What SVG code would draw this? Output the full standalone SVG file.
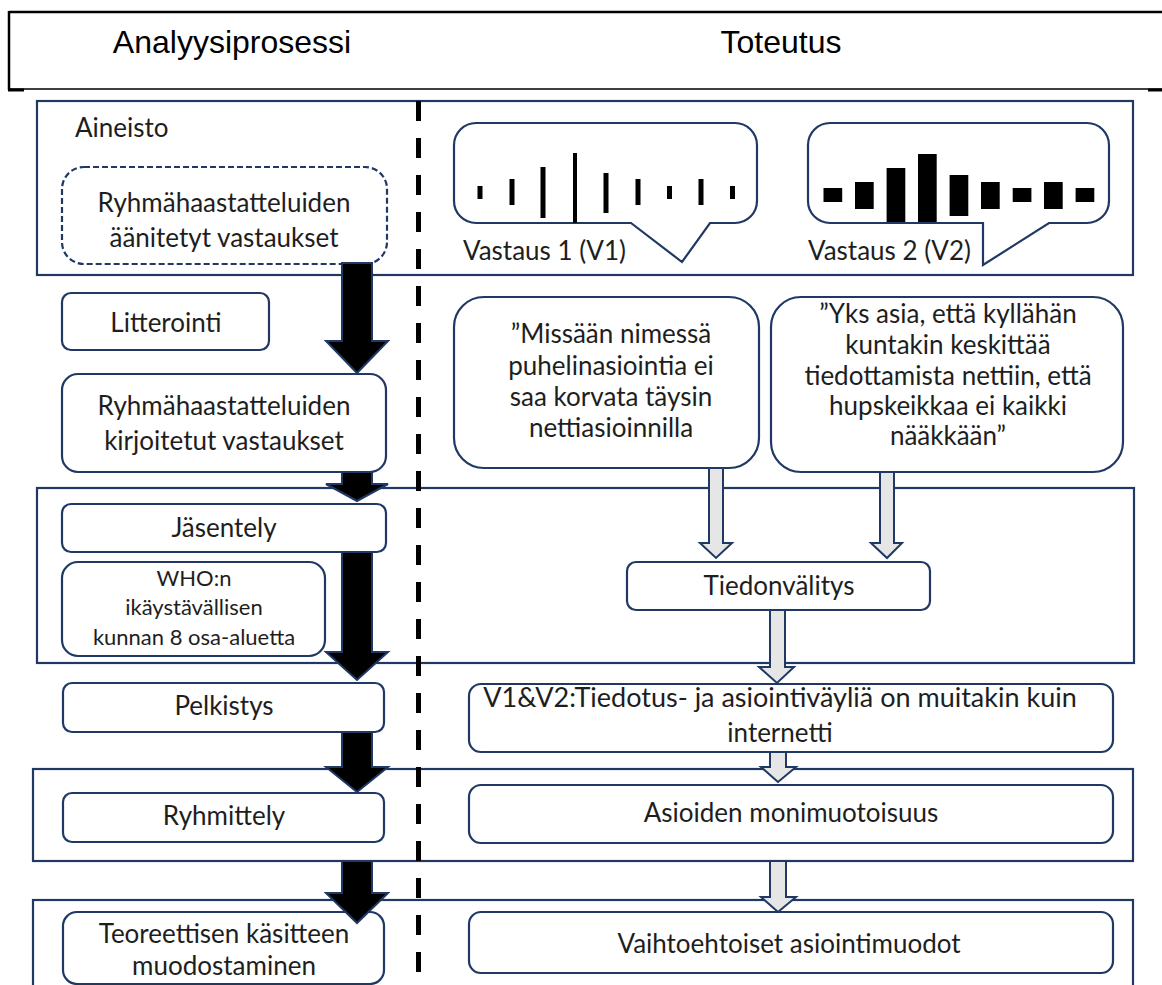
<svg xmlns="http://www.w3.org/2000/svg" width="1162" height="985" viewBox="0 0 1162 985">
<style>
.hd{font-family:"Liberation Sans",Arial,sans-serif;font-size:32px;fill:#000;text-anchor:middle}
.t{font-family:Lato,"Noto Sans",sans-serif;font-size:26px;fill:#1e1e1e;text-anchor:middle}
.tq{font-family:Lato,"Noto Sans",sans-serif;font-size:26px;fill:#1e1e1e;text-anchor:middle}
.tw{font-family:Lato,"Noto Sans",sans-serif;font-size:22px;fill:#1e1e1e;text-anchor:middle}
.sec{fill:none;stroke:#1F3864;stroke-width:2.2}
.box{fill:#fff;stroke:#1F3864;stroke-width:2.2}
.bar{fill:#000}
.ba{fill:#000;stroke:#1F3864;stroke-width:2}
.ga{fill:#E7E6E6;stroke:#1F3864;stroke-width:2}
</style>
<rect width="1162" height="985" fill="#fff"/>
<g id="header">
<line x1="9" y1="12" x2="1162" y2="12" stroke="#000" stroke-width="2.5"/>
<line x1="9" y1="11" x2="9" y2="90" stroke="#000" stroke-width="2.5"/>
<line x1="9" y1="89" x2="1162" y2="89" stroke="#000" stroke-width="1.3"/>
<line x1="8" y1="90" x2="24" y2="90" stroke="#000" stroke-width="3"/>
<line x1="1148" y1="90" x2="1162" y2="90" stroke="#000" stroke-width="3"/>
<text class="hd" x="232" y="53">Analyysiprosessi</text>
<text class="hd" x="781" y="53">Toteutus</text>
</g>
<g id="sections">
<rect class="sec" x="37" y="101" width="1096" height="174"/>
<rect class="sec" x="37" y="488" width="1097" height="175"/>
<rect class="sec" x="33" y="769" width="1100" height="92"/>
<rect class="sec" x="33" y="900" width="1100" height="95"/>
</g>
<line id="divider" x1="418.5" y1="101" x2="418.5" y2="985" stroke="#000" stroke-width="5" stroke-dasharray="20 17"/>
<g id="aineisto"><text class="t" x="75" y="137" style="text-anchor:start">Aineisto</text></g>
<g id="aanitetyt">
<rect x="62" y="167" width="325" height="97" rx="22" fill="#fff" stroke="#1F3864" stroke-width="2.2" stroke-dasharray="6 3"/>
<text class="t" x="224" y="212">Ryhmähaastatteluiden</text>
<text class="t" x="224" y="247">äänitetyt vastaukset</text>
</g>
<g id="bubble1">
<path class="box" d="M476,123 H735 A22,22 0 0 1 757,145 V201 A22,22 0 0 1 735,223 H710 L682,262 L631,223 H476 A22,22 0 0 1 454,201 V145 A22,22 0 0 1 476,123 Z"/>
<rect class="bar" x="477.5" y="186" width="5" height="13"/>
<rect class="bar" x="509.5" y="179" width="5" height="26"/>
<rect class="bar" x="540.5" y="167" width="5" height="51"/>
<rect class="bar" x="573" y="153" width="4" height="70"/>
<rect class="bar" x="603.5" y="173" width="5" height="40"/>
<rect class="bar" x="635.5" y="179" width="5" height="26"/>
<rect class="bar" x="667" y="186" width="5" height="13"/>
<rect class="bar" x="698.5" y="179" width="5" height="26"/>
<rect class="bar" x="730" y="186" width="5" height="13"/>
<text class="t" x="463" y="260" style="text-anchor:start">Vastaus 1 (V1)</text>
</g>
<g id="bubble2">
<path class="box" d="M830,123 H1087 A22,22 0 0 1 1109,145 V201 A22,22 0 0 1 1087,223 H1049 L983,265 V223 H830 A22,22 0 0 1 808,201 V145 A22,22 0 0 1 830,123 Z"/>
<rect class="bar" x="823.5" y="188" width="18.7" height="14"/>
<rect class="bar" x="855" y="182" width="18.7" height="27"/>
<rect class="bar" x="886.6" y="168" width="18.7" height="54"/>
<rect class="bar" x="918" y="154" width="18.7" height="68"/>
<rect class="bar" x="949.6" y="175" width="18.7" height="41"/>
<rect class="bar" x="981" y="182" width="18.7" height="27"/>
<rect class="bar" x="1012.7" y="188" width="18.7" height="14"/>
<rect class="bar" x="1044" y="182" width="18.7" height="27"/>
<rect class="bar" x="1075.6" y="188" width="18.7" height="14"/>
<text class="t" x="808" y="260" style="text-anchor:start">Vastaus 2 (V2)</text>
</g>
<g id="litterointi">
<rect class="box" x="62" y="293" width="207" height="57" rx="9"/>
<text class="t" x="166" y="332">Litterointi</text>
</g>
<g id="kirjoitetut">
<rect class="box" x="62" y="374" width="324" height="98" rx="16"/>
<text class="t" x="224" y="415">Ryhmähaastatteluiden</text>
<text class="t" x="224" y="450">kirjoitetut vastaukset</text>
</g>
<g id="quote1">
<rect class="box" x="454" y="297" width="305" height="171" rx="30"/>
<text class="tq" x="611" y="343">”Missään nimessä</text>
<text class="tq" x="611" y="375">puhelinasiointia ei</text>
<text class="tq" x="611" y="406">saa korvata täysin</text>
<text class="tq" x="611" y="437">nettiasioinnilla</text>
</g>
<g id="quote2">
<rect class="box" x="771" y="297" width="352" height="175" rx="30"/>
<text class="tq" x="948" y="323">”Yks asia, että kyllähän</text>
<text class="tq" x="948" y="354">kuntakin keskittää</text>
<text class="tq" x="948" y="385">tiedottamista nettiin, että</text>
<text class="tq" x="948" y="415">hupskeikkaa ei kaikki</text>
<text class="tq" x="948" y="445">nääkkään”</text>
</g>
<g id="jasentely">
<rect class="box" x="62" y="504" width="324" height="48" rx="9"/>
<text class="t" x="224" y="537">Jäsentely</text>
</g>
<g id="who">
<rect class="box" x="62" y="562" width="263" height="94" rx="16"/>
<text class="tw" x="194" y="586">WHO:n</text>
<text class="tw" x="194" y="615">ikäystävällisen</text>
<text class="tw" x="194" y="645">kunnan 8 osa-aluetta</text>
</g>
<g id="tiedonvalitys">
<rect class="box" x="627" y="562" width="303" height="48" rx="9"/>
<text class="t" x="779" y="595">Tiedonvälitys</text>
</g>
<g id="pelkistys">
<rect class="box" x="63" y="683" width="321" height="49" rx="9"/>
<text class="t" x="224" y="715">Pelkistys</text>
</g>
<g id="v1v2">
<rect class="box" x="469" y="684" width="644" height="68" rx="12"/>
<text class="t" x="780" y="707" style="font-size:27px">V1&amp;V2:Tiedotus- ja asiointiväyliä on muitakin kuin</text>
<text class="t" x="780" y="742">internetti</text>
</g>
<g id="ryhmittely">
<rect class="box" x="63" y="793" width="321" height="49" rx="9"/>
<text class="t" x="224" y="825">Ryhmittely</text>
</g>
<g id="monimuotoisuus">
<rect class="box" x="469" y="785" width="644" height="58" rx="12"/>
<text class="t" x="791" y="822">Asioiden monimuotoisuus</text>
</g>
<g id="teoreettisen">
<rect class="box" x="63" y="912" width="321" height="72" rx="14"/>
<text class="t" x="224" y="943">Teoreettisen käsitteen</text>
<text class="t" x="224" y="975">muodostaminen</text>
</g>
<g id="vaihtoehtoiset">
<rect class="box" x="469" y="912" width="644" height="61" rx="12"/>
<text class="t" x="789" y="953">Vaihtoehtoiset asiointimuodot</text>
</g>
<g id="connectors">
<path class="ba" d="M342,263 H372 V341 H388 L357,373 L326,341 H342 Z"/>
<path class="ba" d="M342,472 H372 V484 H388 L357,501 L326,484 H342 Z"/>
<path class="ba" d="M342,552 H372 V652 H388 L357,680 L326,652 H342 Z"/>
<path class="ba" d="M342,732 H372 V767 H388 L357,792 L326,767 H342 Z"/>
<path class="ba" d="M342,861 H372 V893 H388 L357,923 L326,893 H342 Z"/>
<path class="ga" d="M709,468 H723 V543 H732 L716,558 L700,543 H709 Z"/>
<path class="ga" d="M880,472 H894 V543 H902 L887,558 L871,543 H880 Z"/>
<path class="ga" d="M770,610 H785 V667 H794 L777,683 L759,667 H770 Z"/>
<path class="ga" d="M770,752 H786 V767 H796 L778,782 L761,767 H770 Z"/>
<path class="ga" d="M770,861 H786 V897 H796 L778,912 L761,897 H770 Z"/>
</g>
</svg>
